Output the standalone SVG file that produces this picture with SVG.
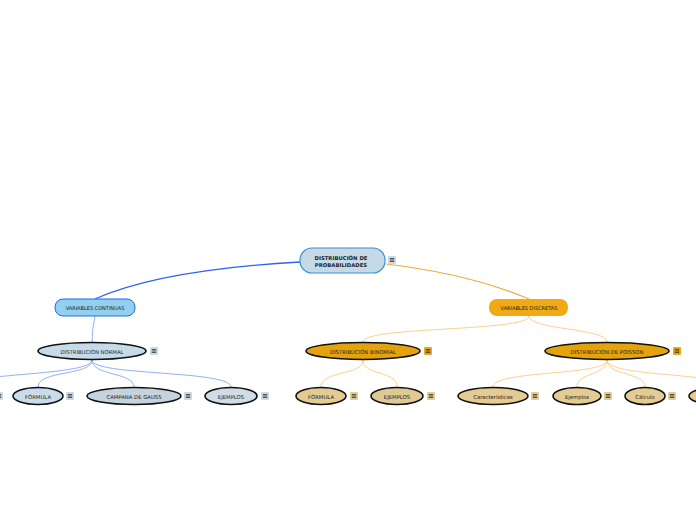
<svg xmlns="http://www.w3.org/2000/svg" width="696" height="520" viewBox="0 0 696 520">
<defs>
<style>
.t{font-family:"DejaVu Sans","Liberation Sans",sans-serif;font-size:5.3px;fill:#222;text-anchor:middle;dominant-baseline:central}
.tb{font-weight:bold}
.el{stroke:#111;stroke-width:1.6}
.cb{fill:none;stroke:#2f63f0;stroke-width:1.3}
.cbl{fill:none;stroke:#86a6f7;stroke-width:0.9}
.co{fill:none;stroke:#f7a833;stroke-width:1.2}
.col{fill:none;stroke:#fcca82;stroke-width:0.9}
.ib{fill:#c9d9e6}
.io{fill:#eaa51a}
.it{fill:#e3cc94}
.il{stroke:#333;stroke-width:0.8}
</style>
<g id="note">
<path class="il" d="M1.8,2.5h4.4M1.8,4h4.4M1.8,5.5h4.4"/>
</g>
</defs>
<rect width="696" height="520" fill="#fff"/>
<g id="connectors">
<path class="cb" d="M300,262 Q160,270 95,299"/>
<path class="co" d="M386,264 Q470,274 529,299"/>
<path class="cbl" d="M95,316 Q92,330 92,342"/>
<path class="cbl" d="M92,360 C92,372 20,373 -20,379"/>
<path class="cbl" d="M92,360 C92,376 38,370 38,387"/>
<path class="cbl" d="M92,360 C92,376 134,372 134,387"/>
<path class="cbl" d="M92,360 C92,376 231,370 231,387"/>
<path class="col" d="M529,316 C529,332 363,326 363,342"/>
<path class="col" d="M529,316 C529,330 607,328 607,342"/>
<path class="col" d="M363,360 C363,376 321,370 321,387"/>
<path class="col" d="M363,360 C363,376 397,370 397,387"/>
<path class="col" d="M607,360 C607,376 493,370 493,387"/>
<path class="col" d="M607,360 C607,376 577,372 577,387"/>
<path class="col" d="M607,360 C607,376 645,372 645,387"/>
<path class="col" d="M607,360 C607,374 680,373 720,381"/>
</g>
<g id="root">
<rect x="300" y="248" width="85" height="25" rx="12" fill="#c6d9e7" stroke="#3b90d9" stroke-width="1.2"/>
<text class="t tb" x="341" y="257.5">DISTRIBUCIÓN DE</text>
<text class="t tb" x="341" y="264.5">PROBABILIDADES</text>
<rect class="ib" x="388" y="256" width="8" height="8" rx="1"/><use href="#note" x="388" y="256"/>
</g>
<g id="variables-continuas">
<rect x="55" y="299" width="80" height="17" rx="8" fill="#8fd1ef" stroke="#2b66e8" stroke-width="1"/>
<text class="t" x="95" y="307.5" style="font-size:5px">VARIABLES CONTINUAS</text>
</g>
<g id="variables-discretas">
<rect x="489" y="299" width="79" height="17" rx="8" fill="#f1a914"/>
<text class="t" x="529" y="307.5" style="font-size:5px">VARIABLES DISCRETAS</text>
</g>
<g id="distribucion-normal">
<ellipse class="el" cx="92" cy="351" rx="54" ry="8.5" fill="#c6dbea"/>
<text class="t" x="92" y="351.5">DISTRIBUCIÓN NORMAL</text>
<rect class="ib" x="150" y="347" width="8" height="8" rx="1"/><use href="#note" x="150" y="347"/>
</g>
<g id="hidden-left">
<rect class="ib" x="-5" y="392" width="8" height="8" rx="1"/><use href="#note" x="-5" y="392"/>
</g>
<g id="formula-normal">
<ellipse class="el" cx="38" cy="396" rx="25" ry="8.5" fill="#c9dcea"/>
<text class="t" x="38" y="396.5">FÓRMULA</text>
<rect class="ib" x="66" y="392" width="8" height="8" rx="1"/><use href="#note" x="66" y="392"/>
</g>
<g id="campana-de-gauss">
<ellipse class="el" cx="134" cy="396" rx="47" ry="8.5" fill="#c5d3de"/>
<text class="t" x="134" y="396.5">CAMPANA DE GAUSS</text>
<rect class="ib" x="184" y="392" width="8" height="8" rx="1"/><use href="#note" x="184" y="392"/>
</g>
<g id="ejemplos-normal">
<ellipse class="el" cx="231" cy="396" rx="26" ry="8.5" fill="#d0dde7"/>
<text class="t" x="231" y="396.5">EJEMPLOS</text>
<rect class="ib" x="261" y="392" width="8" height="8" rx="1"/><use href="#note" x="261" y="392"/>
</g>
<g id="distribucion-binomial">
<ellipse class="el" cx="363" cy="351" rx="57" ry="8.5" fill="#e4a30c"/>
<text class="t" x="363" y="351.5">DISTRIBUCIÓN BINOMIAL</text>
<rect class="io" x="424" y="347" width="8" height="8" rx="1"/><use href="#note" x="424" y="347"/>
</g>
<g id="formula-binomial">
<ellipse class="el" cx="321" cy="396" rx="25" ry="8.5" fill="#e3cb92"/>
<text class="t" x="321" y="396.5">FÓRMULA</text>
<rect class="it" x="350" y="392" width="8" height="8" rx="1"/><use href="#note" x="350" y="392"/>
</g>
<g id="ejemplos-binomial">
<ellipse class="el" cx="397" cy="396" rx="26" ry="8.5" fill="#dfc994"/>
<text class="t" x="397" y="396.5">EJEMPLOS</text>
<rect class="it" x="427" y="392" width="8" height="8" rx="1"/><use href="#note" x="427" y="392"/>
</g>
<g id="distribucion-poisson">
<ellipse class="el" cx="607" cy="351" rx="62" ry="8.5" fill="#e4a30c"/>
<text class="t" x="607" y="351.5">DISTRIBUCION DE POISSON</text>
<rect class="io" x="673" y="347" width="8" height="8" rx="1"/><use href="#note" x="673" y="347"/>
</g>
<g id="caracteristicas">
<ellipse class="el" cx="493" cy="396" rx="35" ry="8.5" fill="#e3cb92"/>
<text class="t" x="493" y="396.5">Características</text>
<rect class="it" x="531" y="392" width="8" height="8" rx="1"/><use href="#note" x="531" y="392"/>
</g>
<g id="ejemplos-poisson">
<ellipse class="el" cx="577" cy="396" rx="24" ry="8.5" fill="#e3cb92"/>
<text class="t" x="577" y="396.5">Ejemplos</text>
<rect class="it" x="604" y="392" width="8" height="8" rx="1"/><use href="#note" x="604" y="392"/>
</g>
<g id="calculo">
<ellipse class="el" cx="645" cy="396" rx="20" ry="8.5" fill="#e3cb92"/>
<text class="t" x="645" y="396.5">Cálculo</text>
<rect class="it" x="668" y="392" width="8" height="8" rx="1"/><use href="#note" x="668" y="392"/>
</g>
<g id="hidden-right">
<ellipse class="el" cx="716" cy="396" rx="27" ry="8.5" fill="#e3cb92"/>
</g>
</svg>
